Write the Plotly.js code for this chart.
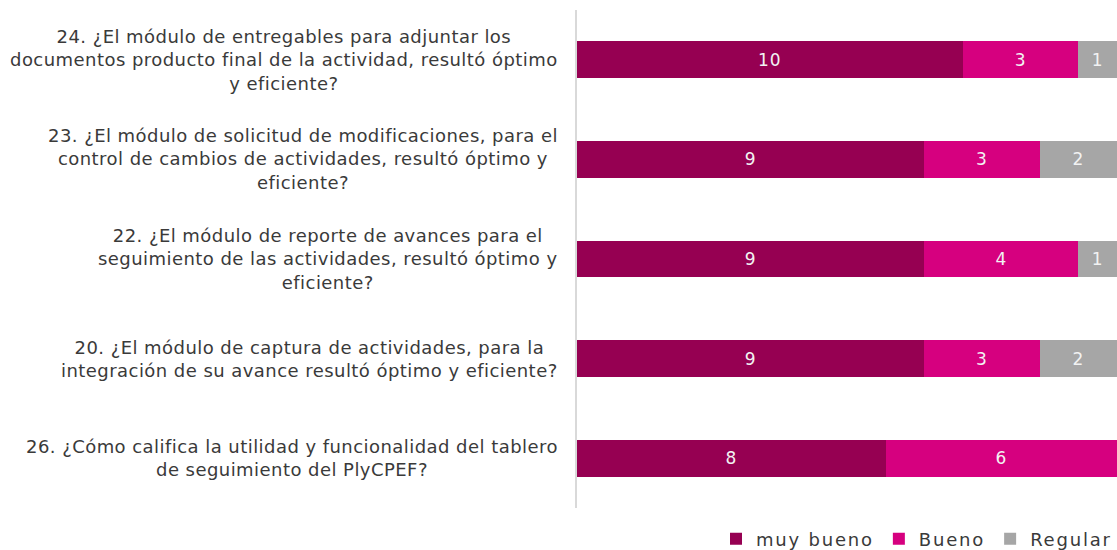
<!DOCTYPE html>
<html>
<head>
<meta charset="utf-8">
<script src="https://cdn.plot.ly/plotly-3.0.1.min.js"></script>
<style>
html,body{margin:0;padding:0;background:#fff;}
#chart{width:1117px;height:550px;}
text.annotation-text{letter-spacing:0.45px;}
text.legendtext{letter-spacing:1.8px;}
text.bartext{letter-spacing:1px;}
</style>
</head>
<body>
<div id="chart"></div>
<script>
const categories = [
  "24. ¿El módulo de entregables para adjuntar los<br>documentos producto final de la actividad, resultó óptimo<br>y eficiente?",
  "23. ¿El módulo de solicitud de modificaciones, para el<br>control de cambios de actividades, resultó óptimo y<br>eficiente?",
  "22. ¿El módulo de reporte de avances para el<br>seguimiento de las actividades, resultó óptimo y<br>eficiente?",
  "20. ¿El módulo de captura de actividades, para la<br>integración de su avance resultó óptimo y eficiente?",
  "26. ¿Cómo califica la utilidad y funcionalidad del tablero<br>de seguimiento del PlyCPEF?"
];
const catIds = ["q24", "q23", "q22", "q20", "q26"];
const muyBueno = [10, 9, 9, 9, 8];
const bueno = [3, 3, 4, 3, 6];
const regular = [1, 2, 1, 2, 0];
const seriesNames = ["muy bueno", "Bueno", "Regular"];
const seriesColors = ["#960052", "#D6007F", "#A6A6A6"];

const font = "DejaVu Sans, Liberation Sans, Arial, sans-serif";
const seriesData = [muyBueno, bueno, regular];
const traces = seriesData.map((vals, i) => ({
  type: "bar",
  orientation: "h",
  name: seriesNames[i],
  y: catIds,
  x: vals,
  marker: {color: seriesColors[i], line: {width: 0}},
  text: vals.map(v => v > 0 ? String(v) : ""),
  textposition: "inside",
  insidetextanchor: "middle",
  textfont: {family: font, size: 17, color: "#F2F2F2"},
  hoverinfo: "x+name",
  cliponaxis: false
}));

const annotations = catIds.map((id, i) => ({
  xref: "paper", yref: "y",
  x: 0, y: id,
  xanchor: "right", yanchor: "middle",
  xshift: -17, yshift: 0,
  text: categories[i],
  align: "center",
  showarrow: false,
  font: {family: font, size: 18, color: "#3A3A3A"}
}));

const layout = {
  width: 1117, height: 550,
  margin: {l: 577, r: 0, t: 10, b: 42, pad: 0},
  paper_bgcolor: "#ffffff",
  plot_bgcolor: "#ffffff",
  barmode: "stack",
  bargap: 0.63,
  showlegend: true,
  legend: {
    orientation: "h",
    xref: "paper", x: 1, xanchor: "right",
    yref: "container", y: 0.02, yanchor: "middle",
    font: {family: font, size: 18, color: "#3A3A3A"},
    traceorder: "normal",
    itemwidth: 30
  },
  xaxis: {
    range: [0, 14],
    showgrid: false, zeroline: false, showline: false,
    showticklabels: false, ticks: ""
  },
  yaxis: {
    type: "category",
    autorange: "reversed",
    showgrid: false, zeroline: false,
    showline: true, linecolor: "#D9D9D9", linewidth: 2,
    showticklabels: false, ticks: ""
  },
  annotations: annotations
};

Plotly.newPlot("chart", traces, layout, {displayModeBar: false, staticPlot: true});
</script>
</body>
</html>
